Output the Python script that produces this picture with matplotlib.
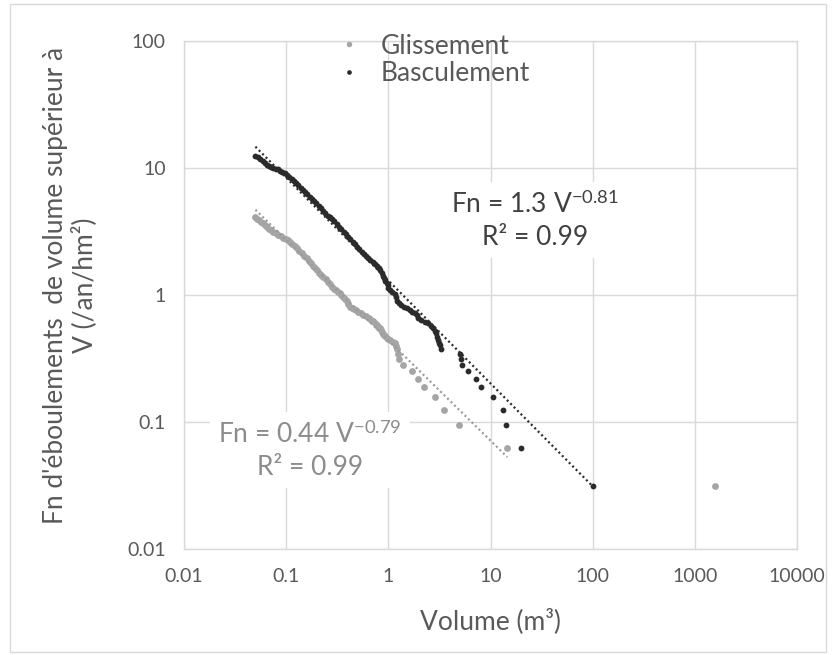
import matplotlib

matplotlib.use("Agg")
import matplotlib.pyplot as plt
import numpy as np
from matplotlib.patches import Rectangle

plt.rcParams["font.family"] = ["Lato", "DejaVu Sans"]
plt.rcParams["mathtext.fontset"] = "custom"
plt.rcParams["mathtext.rm"] = "Lato"
plt.rcParams["mathtext.it"] = "Lato:italic"

# --- data -------------------------------------------------------------------
# Basculement (toppling), volume in m3 -> Fn (/an/hm2)
basc_vol = [0.050, 0.053, 0.056, 0.059, 0.062, 0.065, 0.068, 0.071, 0.075,
            0.079, 0.083, 0.087, 0.092, 0.097, 0.102, 0.107, 0.113, 0.119,
            0.125, 0.132, 0.139, 0.146, 0.153, 0.161, 0.170, 0.179, 0.188,
            0.198, 0.208, 0.219, 0.230, 0.242, 0.255, 0.268, 0.282, 0.297,
            0.313, 0.330, 0.347, 0.365, 0.384, 0.404, 0.425, 0.447, 0.470,
            0.494, 0.520, 0.547, 0.575, 0.605, 0.636, 0.669, 0.703, 0.740,
            0.778, 0.810, 0.835, 0.860, 0.885, 0.910, 0.935, 0.960, 0.985,
            1.00, 1.03, 1.08, 1.15, 1.20, 1.22, 1.26, 1.32, 1.42, 1.51, 1.62,
            1.72, 1.82, 1.90, 1.96, 2.10, 2.30, 2.45, 2.60, 2.75, 2.85, 2.92,
            3.00, 3.08, 3.15, 3.20, 3.25, 5.00, 5.10, 5.28, 5.97, 7.14, 8.05,
            10.6, 13.3, 14.2, 20.1, 100.0]
basc_fn = [12.5, 12.1, 11.7, 11.3, 10.9, 10.65, 10.45, 10.25, 10.05,
           9.9, 9.75, 9.55, 9.35, 9.1, 8.8, 8.5, 8.2, 7.95,
           7.65, 7.3, 7.0, 6.75, 6.5, 6.2, 5.95, 5.7, 5.5,
           5.28, 5.05, 4.85, 4.62, 4.42, 4.22, 4.08, 3.95, 3.8,
           3.62, 3.45, 3.3, 3.15, 3.0, 2.88, 2.75, 2.62, 2.5,
           2.38, 2.3, 2.2, 2.1, 2.02, 1.95, 1.88, 1.82, 1.75,
           1.69, 1.63, 1.56, 1.48, 1.41, 1.35, 1.29, 1.24, 1.19,
           1.14, 1.09, 1.05, 1.02, 0.96, 0.90, 0.86, 0.83, 0.81, 0.785, 0.76,
           0.74, 0.718, 0.69, 0.656, 0.63, 0.61, 0.60, 0.57, 0.547, 0.52, 0.50,
           0.47, 0.443, 0.42, 0.404, 0.375, 0.344, 0.313, 0.281, 0.25, 0.219,
           0.188, 0.156, 0.125, 0.094, 0.0625, 0.0313]

# Glissement (sliding)
gliss_vol = [0.050, 0.052, 0.054, 0.0565, 0.059, 0.062, 0.065, 0.068, 0.071,
             0.075, 0.079, 0.084, 0.089, 0.094, 0.099, 0.105, 0.110, 0.115,
             0.121, 0.127, 0.134, 0.142, 0.150, 0.159, 0.167, 0.175, 0.183,
             0.191, 0.200, 0.210, 0.220, 0.231, 0.243, 0.255, 0.267, 0.279,
             0.295, 0.310, 0.322, 0.335, 0.347, 0.360, 0.375, 0.390, 0.405,
             0.420, 0.440, 0.460, 0.485, 0.510, 0.540, 0.570, 0.605, 0.640,
             0.670, 0.700, 0.735, 0.770, 0.795, 0.820, 0.840, 0.860, 0.885,
             0.910, 0.935, 0.960, 1.00, 1.05, 1.10, 1.15, 1.19, 1.22, 1.25,
             1.27, 1.40, 1.71, 1.96, 2.23, 2.84, 3.53, 4.91, 14.6, 1560.0]
gliss_fn = [4.1, 3.98, 3.88, 3.76, 3.66, 3.55, 3.44, 3.33, 3.25,
            3.15, 3.06, 2.97, 2.9, 2.83, 2.77, 2.71, 2.62, 2.52,
            2.42, 2.33, 2.23, 2.13, 2.04, 1.95, 1.86, 1.78, 1.7,
            1.62, 1.56, 1.50, 1.45, 1.39, 1.33, 1.27, 1.21, 1.15,
            1.11, 1.09, 1.06, 1.03, 1.0, 0.97, 0.93, 0.89, 0.85,
            0.81, 0.79, 0.775, 0.757, 0.74, 0.72, 0.70, 0.68, 0.66,
            0.64, 0.62, 0.60, 0.58, 0.563, 0.545, 0.527, 0.51, 0.497,
            0.485, 0.472, 0.46, 0.45, 0.44, 0.43, 0.42, 0.40, 0.375, 0.344,
            0.313, 0.281, 0.25, 0.219, 0.188, 0.156, 0.125, 0.094, 0.0625,
            0.0313]

# power-law trendlines shown on the chart: Fn = a * V^b over the fitted range
basc_fit = (1.3, -0.81, 0.05, 100.0)
gliss_fit = (0.44, -0.79, 0.05, 14.6)

x_ticks = [0.01, 0.1, 1, 10, 100, 1000, 10000]
x_ticklabels = ["0.01", "0.1", "1", "10", "100", "1000", "10000"]
y_ticks = [0.01, 0.1, 1, 10, 100]
y_ticklabels = ["0.01", "0.1", "1", "10", "100"]

GLISS_C = "#a5a5a5"
BASC_C = "#2b2b2b"
TEXT_C = "#595959"
GRID_C = "#d9d9d9"

W, H = 834, 655
fig = plt.figure(figsize=(W / 100, H / 100), dpi=100)
fig.patches.append(Rectangle((10 / W, 3 / H), 816 / W, 648 / H,
                             transform=fig.transFigure, fill=False,
                             edgecolor=GRID_C, lw=1))
ax = fig.add_axes([184 / W, 1 - 549 / H, (797 - 184) / W, (549 - 41) / H])

ax.set_xscale("log")
ax.set_yscale("log")
ax.set_xlim(0.01, 10000)
ax.set_ylim(0.01, 100)

ax.plot(gliss_vol, gliss_fn, "o", color=GLISS_C, ms=4.9, mew=0,
        label="Glissement", zorder=3)
ax.plot(basc_vol, basc_fn, "o", color=BASC_C, ms=4.2, mew=0,
        label="Basculement", zorder=3)

for (a, b, x0, x1), c in [(gliss_fit, "#9a9a9a"), (basc_fit, BASC_C)]:
    xs = np.array([x0, x1])
    ax.plot(xs, a * xs ** b, color=c, lw=1.6, ls=(0, (0.9, 1.3)), zorder=4)

ax.set_xticks(x_ticks)
ax.set_xticklabels(x_ticklabels)
ax.set_yticks(y_ticks)
ax.set_yticklabels(y_ticklabels)
ax.minorticks_off()
ax.tick_params(length=0, labelsize=14, colors=TEXT_C)
ax.tick_params(axis="x", pad=14)
ax.tick_params(axis="y", pad=13)
ax.grid(True, color=GRID_C, lw=1)
ax.set_axisbelow(True)
for sp in ax.spines.values():
    sp.set_color(GRID_C)
    sp.set_linewidth(1)

fig.text(490 / W, 1 - 621 / H, "Volume (m³)", ha="center", va="center",
         fontsize=19, color=TEXT_C)
fig.text(70 / W, 1 - 285 / H,
         "Fn d'éboulements  de volume supérieur à\nV (/an/hm²)",
         ha="center", va="center", rotation=90, fontsize=19, color=TEXT_C,
         linespacing=1.15)

box = dict(facecolor="white", edgecolor="none", pad=6)
fig.text(535 / W, 1 - 220 / H, "Fn = 1.3 V$^{-0.81}$\nR² = 0.99",
         ha="center", va="center", fontsize=19, color="#404040",
         linespacing=1.35, bbox=box, zorder=5)
fig.text(310 / W, 1 - 450 / H, "Fn = 0.44 V$^{-0.79}$\nR² = 0.99",
         ha="center", va="center", fontsize=19, color="#8c8c8c",
         linespacing=1.35, bbox=box, zorder=5)

fig.legend(loc="center", bbox_to_anchor=(432 / W, 1 - 60 / H),
           frameon=False, fontsize=19, labelcolor=TEXT_C, handletextpad=0.6,
           labelspacing=0.1, markerscale=0.8, handlelength=1.2)

fig.savefig("out.png", dpi=100)
